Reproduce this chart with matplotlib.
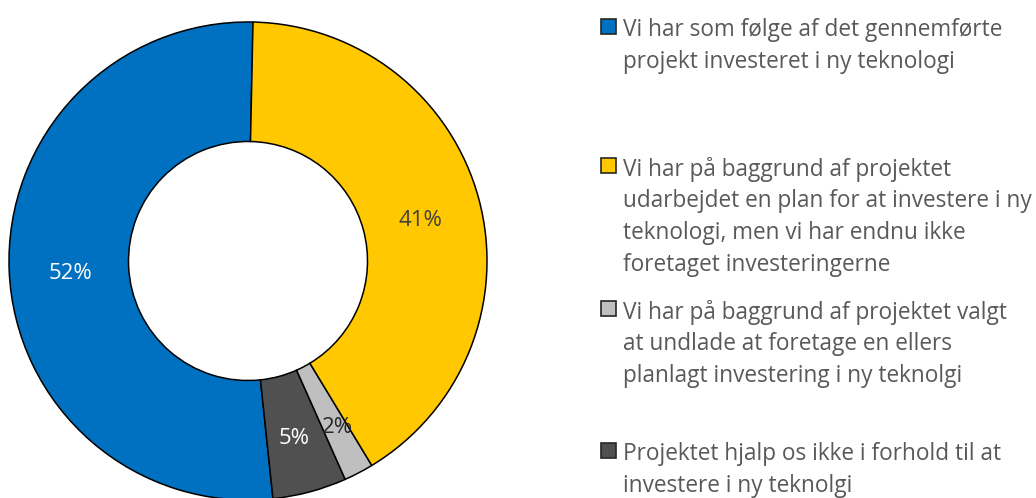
import matplotlib.pyplot as plt
from matplotlib.patches import Rectangle

plt.rcParams['font.family'] = ['Open Sans', 'DejaVu Sans']

# data, drawn counterclockwise from the top
labels = [
    "Vi har som følge af det gennemførte\nprojekt investeret i ny teknologi",
    "Projektet hjalp os ikke i forhold til at\ninvestere i ny teknolgi",
    "Vi har på baggrund af projektet valgt\nat undlade at foretage en ellers\nplanlagt investering i ny teknolgi",
    "Vi har på baggrund af projektet\nudarbejdet en plan for at investere i ny\nteknologi, men vi har endnu ikke\nforetaget investeringerne",
]
values = [52, 5, 2, 41]
colors = ["#0070C0", "#505050", "#BFBFBF", "#FFC800"]
label_colors = ["white", "white", "#262626", "#404040"]
legend_order = [0, 3, 2, 1]

W, H = 1036, 498
fig = plt.figure(figsize=(W / 100, H / 100), dpi=100)
ax = fig.add_axes([9 / W, -2 / H, 478 / W, 478 / H])

wedges, texts, autotexts = ax.pie(
    values, colors=colors, startangle=88.8, counterclock=True,
    radius=1.0, autopct="%d%%", pctdistance=0.745,
    wedgeprops=dict(width=0.5, edgecolor="black", linewidth=1.1),
    textprops=dict(fontsize=16))
for t, c in zip(autotexts, label_colors):
    t.set_color(c)
    x, y = t.get_position()
    t.set_position((x, y - 0.022))
# the small grey slice label sits a little further out in the original
x, y = autotexts[2].get_position()
autotexts[2].set_position((x + 0.03, y - 0.015))
ax.set_xlim(-1, 1)
ax.set_ylim(-1, 1)
ax.set_aspect("equal")

# legend built by hand so the entries can sit like the original
entry_tops = [26, 165, 308, 450]
line_h = 32
for top, i in zip(entry_tops, legend_order):
    fig.patches.append(Rectangle((601 / W, 1 - (top + 8) / H), 15 / W, 15 / H,
                                 transform=fig.transFigure, facecolor=colors[i],
                                 edgecolor="#262626", linewidth=1.2))
    for k, line in enumerate(labels[i].split("\n")):
        fig.text(623 / W, 1 - (top + 4 + k * line_h) / H, line, fontsize=16.3,
                 color="#595959", va="center", ha="left")

fig.savefig("out.png", dpi=100)
